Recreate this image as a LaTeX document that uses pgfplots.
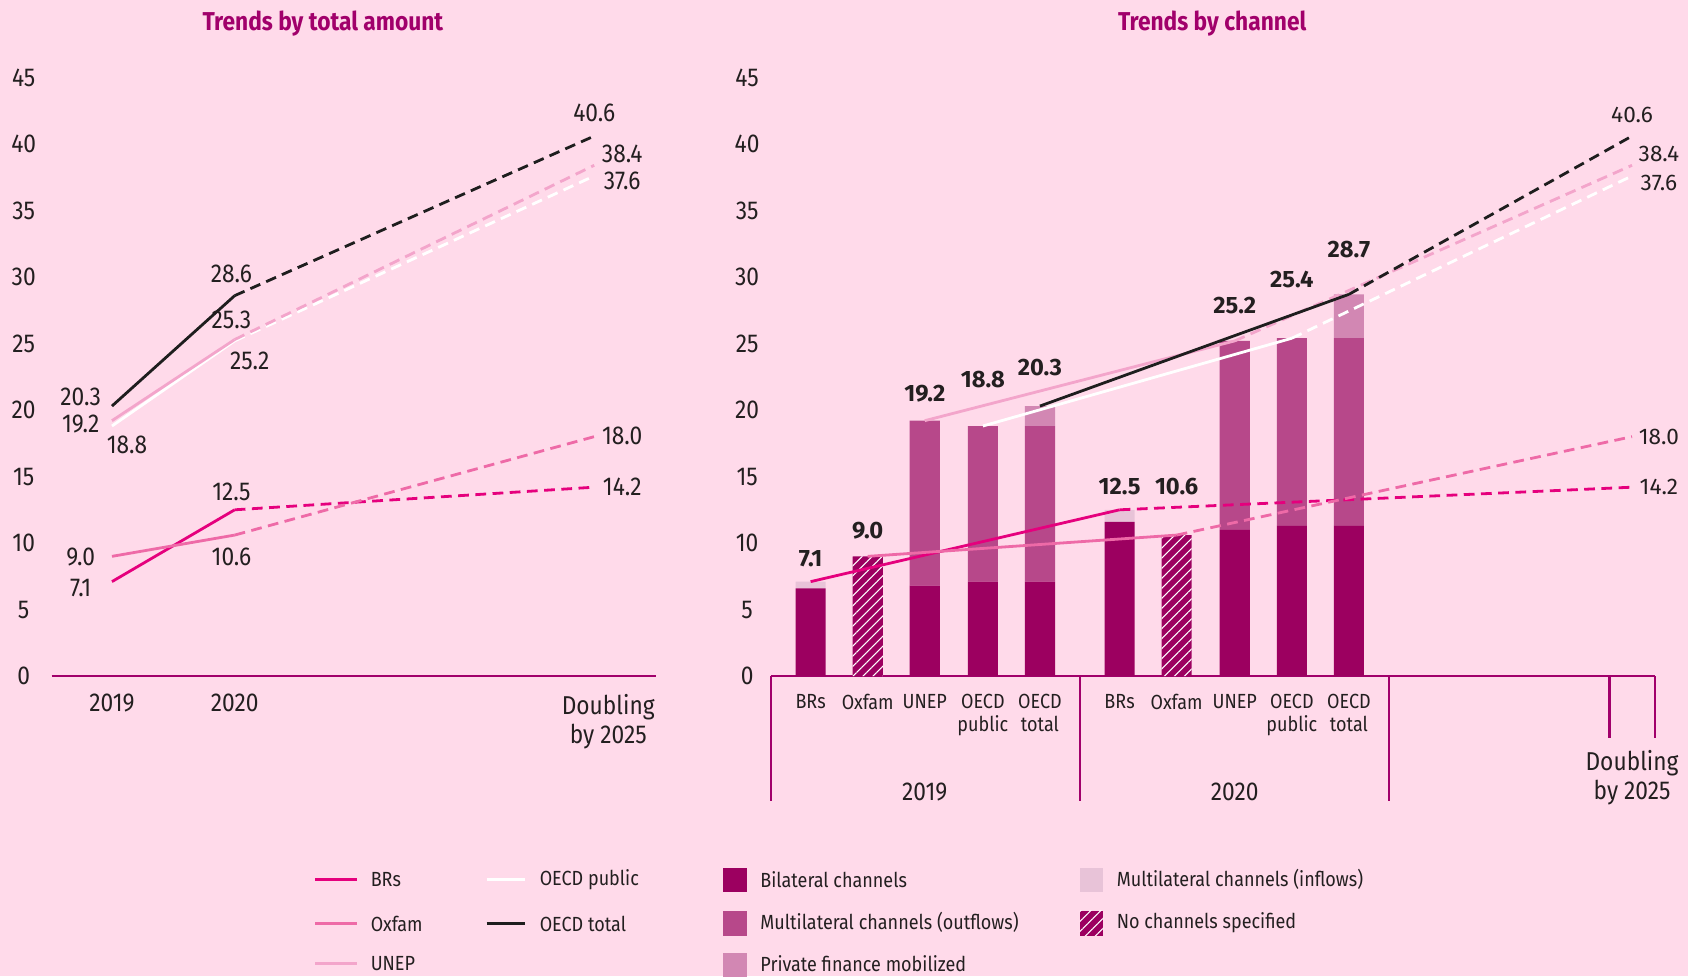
\documentclass[border=0pt]{standalone}
\usepackage{pgfplots}
\pgfplotsset{compat=1.18}
\usetikzlibrary{patterns,patterns.meta}
\usepackage{fontspec}
\setmainfont{Fira Sans}[FakeStretch=0.88]
\newfontfamily\widefont{Fira Sans}
\definecolor{bg}{HTML}{FFDAEA}
\definecolor{titlec}{HTML}{A1006B}
\definecolor{axisc}{HTML}{A1006B}
\definecolor{bil}{HTML}{9C0060}
\definecolor{outf}{HTML}{B7488A}
\definecolor{priv}{HTML}{D287B3}
\definecolor{inf}{HTML}{E8C3D8}
\definecolor{brs}{HTML}{E5007D}
\definecolor{oxf}{HTML}{EE6AA7}
\definecolor{unep}{HTML}{F3A5CB}
\definecolor{blk}{HTML}{1E1E1E}
\definecolor{txt}{HTML}{231F20}
\tikzset{
  solidl/.style={line width=1.3pt},
  dashl/.style={line width=1.3pt, dash pattern=on 5pt off 3pt},
  hatch/.style={fill=bil, postaction={pattern={Lines[angle=45,distance=3.3pt,line width=0.5pt]}, pattern color=white}},
  lab/.style={text=txt, font=\fontsize{12}{14}\selectfont, inner sep=0pt},
  blab/.style={text=txt, font=\widefont\bfseries\fontsize{11}{12}\selectfont, inner sep=0pt},
  rlab/.style={text=txt, font=\widefont\fontsize{10.5}{12}\selectfont, inner sep=0pt},
}
\begin{document}
\begin{tikzpicture}
\fill[bg] (0,0) rectangle (784pt,453.5pt);
\useasboundingbox (0,0) rectangle (784pt,453.5pt);

% ---------------- left panel ----------------
\begin{axis}[
  at={(24pt,139.5pt)}, anchor=south west,
  scale only axis, width=280.5pt, height=278pt,
  xmin=48, xmax=609, ymin=0, ymax=45,
  axis lines=left, axis line style={-},
  x axis line style={draw=axisc, line width=1pt},
  y axis line style={draw=none},
  ytick={0,5,...,45},
  xtick={104,218,565},
  xticklabels={2019,2020,{Doubling\\by 2025}},
  major tick length=0pt, tick style={draw=none},
  /pgf/number format/assume math mode=true,
  yticklabel style={anchor=center, xshift=-13pt, text=txt, font=\fontsize{12}{14}\selectfont},
  xticklabel style={anchor=north, align=center, yshift=-5pt, text=txt, font=\fontsize{12}{13.5}\selectfont},
  clip=false,
]
\addplot[solidl, brs] coordinates {(104,7.1) (218,12.5)};
\addplot[dashl, brs] coordinates {(218,12.5) (552,14.2)};
\addplot[solidl, oxf] coordinates {(104,9.0) (218,10.6)};
\addplot[dashl, oxf] coordinates {(218,10.6) (552,18.0)};
\addplot[solidl, white] coordinates {(104,18.8) (218,25.2)};
\addplot[dashl, white] coordinates {(218,25.2) (552,37.6)};
\addplot[solidl, unep] coordinates {(104,19.2) (218,25.3)};
\addplot[dashl, unep] coordinates {(218,25.3) (552,38.4)};
\addplot[solidl, blk] coordinates {(104,20.3) (218,28.6)};
\addplot[dashl, blk] coordinates {(218,28.6) (552,40.6)};
\node[lab] at (axis cs:75,20.96) {20.3};
\node[lab] at (axis cs:75,18.94) {19.2};
\node[lab] at (axis cs:118,17.40) {18.8};
\node[lab] at (axis cs:215,30.27) {28.6};
\node[lab] at (axis cs:215,26.79) {25.3};
\node[lab] at (axis cs:232,23.71) {25.2};
\node[lab] at (axis cs:552,42.33) {40.6};
\node[lab] at (axis cs:578,39.25) {38.4};
\node[lab] at (axis cs:578,37.23) {37.6};
\node[lab] at (axis cs:75,8.98) {9.0};
\node[lab] at (axis cs:75,6.64) {7.1};
\node[lab] at (axis cs:215,13.84) {12.5};
\node[lab] at (axis cs:215,8.98) {10.6};
\node[lab] at (axis cs:578,18.05) {18.0};
\node[lab] at (axis cs:578,14.24) {14.2};
\end{axis}

% ---------------- right panel: bars ----------------
\begin{axis}[
  at={(358pt,139.5pt)}, anchor=south west,
  scale only axis, width=410.5pt, height=278pt,
  xmin=716, xmax=1537, ymin=0, ymax=45,
  axis lines=left, axis line style={-},
  x axis line style={draw=axisc, line width=1pt},
  y axis line style={draw=none},
  ytick={0,5,...,45},
  xtick={753,806,859,913,966,1040,1093,1147,1200,1253},
  xticklabels={BRs,Oxfam,UNEP,{OECD\\public},{OECD\\total},BRs,Oxfam,UNEP,{OECD\\public},{OECD\\total}},
  major tick length=0pt, tick style={draw=none},
  /pgf/number format/assume math mode=true,
  yticklabel style={anchor=center, xshift=-11pt, text=txt, font=\fontsize{12}{14}\selectfont},
  xticklabel style={anchor=north, align=center, yshift=-5pt, text=txt, font=\fontsize{9.5}{10.5}\selectfont},
  ybar stacked, bar width=28,
  clip=false,
]
\addplot[fill=bil, draw=none] coordinates {(753,6.6) (806,0) (859,6.8) (913,7.1) (966,7.1) (1040,11.6) (1093,0) (1147,11.0) (1200,11.3) (1253,11.3)};
\addplot[hatch, draw=none] coordinates {(753,0) (806,9.0) (859,0) (913,0) (966,0) (1040,0) (1093,10.6) (1147,0) (1200,0) (1253,0)};
\addplot[fill=outf, draw=none] coordinates {(753,0) (806,0) (859,12.4) (913,11.7) (966,11.7) (1040,0) (1093,0) (1147,14.2) (1200,14.1) (1253,14.1)};
\addplot[fill=priv, draw=none] coordinates {(753,0) (806,0) (859,0) (913,0) (966,1.5) (1040,0) (1093,0) (1147,0) (1200,0) (1253,3.3)};
\addplot[fill=inf, draw=none] coordinates {(753,0.5) (806,0) (859,0) (913,0) (966,0) (1040,0.9) (1093,0) (1147,0) (1200,0) (1253,0)};
\end{axis}

% ---------------- right panel: lines ----------------
\begin{axis}[
  at={(358pt,139.5pt)}, anchor=south west,
  scale only axis, width=410.5pt, height=278pt,
  xmin=716, xmax=1537, ymin=0, ymax=45,
  hide axis, clip=false,
]
\addplot[solidl, brs] coordinates {(753,7.1) (1040,12.5)};
\addplot[dashl, brs] coordinates {(1040,12.5) (1516,14.2)};
\addplot[solidl, oxf] coordinates {(806,9.0) (1093,10.6)};
\addplot[dashl, oxf] coordinates {(1093,10.6) (1516,18.0)};
\addplot[solidl, white] coordinates {(913,18.8) (1200,25.4)};
\addplot[dashl, white] coordinates {(1200,25.4) (1516,37.6)};
\addplot[solidl, unep] coordinates {(859,19.2) (1147,25.2)};
\addplot[dashl, unep] coordinates {(1147,25.2) (1516,38.4)};
\addplot[solidl, blk] coordinates {(966,20.3) (1253,28.7)};
\addplot[dashl, blk] coordinates {(1253,28.7) (1516,40.6)};
\node[blab] at (axis cs:753,8.82) {7.1};
\node[blab] at (axis cs:806,10.93) {9.0};
\node[blab] at (axis cs:859,21.2) {19.2};
\node[blab] at (axis cs:913,22.26) {18.8};
\node[blab] at (axis cs:966,23.23) {20.3};
\node[blab] at (axis cs:1040,14.24) {12.5};
\node[blab] at (axis cs:1093,14.24) {10.6};
\node[blab] at (axis cs:1147,27.84) {25.2};
\node[blab] at (axis cs:1200,29.78) {25.4};
\node[blab] at (axis cs:1253,32.05) {28.7};
\node[rlab] at (axis cs:1516,42.17) {40.6};
\node[rlab] at (axis cs:1541,39.25) {38.4};
\node[rlab] at (axis cs:1541,37.07) {37.6};
\node[rlab] at (axis cs:1541,17.97) {18.0};
\node[rlab] at (axis cs:1541,14.24) {14.2};
\draw[axisc, line width=1pt] (axis cs:716,0) -- (axis cs:716,-9.39);
\draw[axisc, line width=1pt] (axis cs:1003,0) -- (axis cs:1003,-9.39);
\draw[axisc, line width=1pt] (axis cs:1290,0) -- (axis cs:1290,-9.39);
\draw[axisc, line width=1pt] (axis cs:1495,0) -- (axis cs:1495,-4.69);
\draw[axisc, line width=1pt] (axis cs:1537,0) -- (axis cs:1537,-4.69);
\node[lab] at (axis cs:859,-8.74) {2019};
\node[lab] at (axis cs:1147,-8.74) {2020};
\node[lab, align=center, font=\fontsize{12}{13.5}\selectfont] at (axis cs:1516,-7.65) {Doubling\\by 2025};
\end{axis}

% ---------------- titles and legend (display-pixel scope) ----------------
\begin{scope}[x=0.5pt, y=-0.5pt, shift={(0pt,453.5pt)}]
\node[text=titlec, font=\bfseries\fontsize{12}{14}\selectfont] at (300,22) {Trends by total amount};
\node[text=titlec, font=\bfseries\fontsize{12}{14}\selectfont] at (1126,22) {Trends by channel};
\tikzset{lg/.style={text=txt, font=\fontsize{9.5}{11}\selectfont, anchor=west, inner sep=0pt}}
\draw[brs, line width=1.3pt] (293,817) -- (332,817); \node[lg] at (344,817) {BRs};
\draw[oxf, line width=1.3pt] (293,858) -- (332,858); \node[lg] at (344,858) {Oxfam};
\draw[unep, line width=1.3pt] (293,895) -- (332,895); \node[lg] at (344,895) {UNEP};
\draw[white, line width=1.3pt] (452,817) -- (488,817); \node[lg] at (501,817) {OECD public};
\draw[blk, line width=1.3pt] (452,858) -- (488,858); \node[lg] at (501,858) {OECD total};
\fill[bil] (672,806) rectangle (694,829); \node[lg] at (706,817) {Bilateral channels};
\fill[outf] (672,846) rectangle (694,869); \node[lg] at (706,857) {Multilateral channels (outflows)};
\fill[priv] (672,885) rectangle (694,908); \node[lg] at (706,895) {Private finance mobilized};
\fill[inf] (1003,806) rectangle (1025,829); \node[lg] at (1037,817) {Multilateral channels (inflows)};
\path[hatch] (1003,846) rectangle (1025,869); \node[lg] at (1037,857) {No channels specified};
\end{scope}
\end{tikzpicture}
\end{document}
